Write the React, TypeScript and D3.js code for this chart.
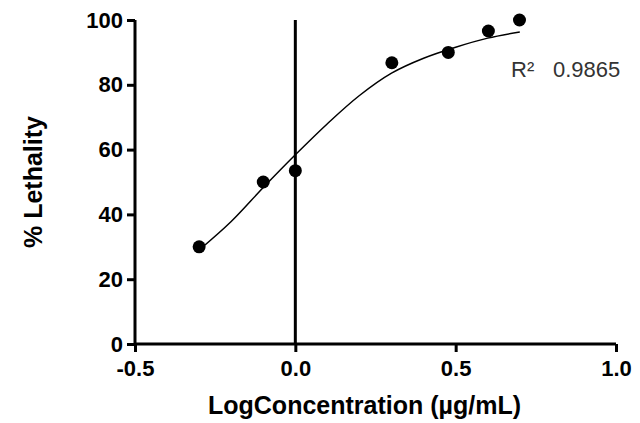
import React, { useEffect, useRef } from 'react';
import * as d3 from 'd3';

// observed data
const logConc = [-0.3, -0.1, 0.0, 0.301, 0.477, 0.602, 0.699];
const lethality = [30, 50, 53.5, 86.8, 90, 96.6, 100];

// fitted curve
const fitX = [-0.3, -0.2, -0.1, 0.0, 0.1, 0.2, 0.3, 0.4, 0.5, 0.6, 0.7];
const fitY = [29.0, 37.8, 48.3, 58.4, 68.0, 76.7, 83.6, 88.2, 91.6, 94.4, 96.3];

const xTicks = [-0.5, 0.0, 0.5, 1.0];
const yTicks = [0, 20, 40, 60, 80, 100];
const r2Label = 'R²';
const r2Value = '0.9865';

const FONT = '"Liberation Sans", Arial, sans-serif';

export default function App() {
  const ref = useRef<SVGSVGElement>(null);

  useEffect(() => {
    const width = 640;
    const height = 423;
    const margin = { top: 20, right: 24, bottom: 79, left: 135 };

    const svg = d3.select(ref.current);
    svg.selectAll('*').remove();

    const x = d3.scaleLinear().domain([-0.5, 1.0]).range([margin.left, width - margin.right]);
    const y = d3.scaleLinear().domain([0, 100]).range([height - margin.bottom, margin.top]);

    // y axis
    const yAxis = svg.append('g')
      .attr('transform', `translate(${margin.left},0)`)
      .call(d3.axisLeft(y).tickValues(yTicks).tickFormat(d3.format('d')).tickSize(8).tickPadding(4));
    yAxis.select('.domain').attr('stroke', '#000').attr('stroke-width', 3)
      .attr('d', `M0,${y(100)}V${y(0)}`);
    yAxis.selectAll('.tick line').attr('stroke', '#000').attr('stroke-width', 3);
    yAxis.selectAll('.tick text')
      .attr('font-family', FONT).attr('font-size', 22).attr('font-weight', 'bold').attr('fill', '#000');

    // x axis
    const xAxis = svg.append('g')
      .attr('transform', `translate(0,${y(0)})`)
      .call(d3.axisBottom(x).tickValues(xTicks).tickSize(8).tickPadding(8));
    xAxis.select('.domain').attr('stroke', '#000').attr('stroke-width', 3)
      .attr('d', `M${x(-0.5)},0H${x(1.0)}`);
    xAxis.selectAll('.tick line').attr('stroke', '#000').attr('stroke-width', 3);
    xAxis.selectAll('.tick text')
      .attr('font-family', FONT).attr('font-size', 22).attr('font-weight', 'bold').attr('fill', '#000')
      .text((d: any) => (+d).toFixed(1));

    // vertical line at x = 0
    svg.append('line')
      .attr('x1', x(0)).attr('x2', x(0))
      .attr('y1', y(100)).attr('y2', y(0))
      .attr('stroke', '#000').attr('stroke-width', 3);

    // fitted curve
    const fit = fitX.map((v, i) => [v, fitY[i]] as [number, number]);
    const line = d3.line<[number, number]>()
      .x(d => x(d[0]))
      .y(d => y(d[1]))
      .curve(d3.curveCatmullRom.alpha(0.5));
    svg.append('path')
      .attr('d', line(fit))
      .attr('fill', 'none')
      .attr('stroke', '#000')
      .attr('stroke-width', 1.5);

    // points
    svg.selectAll('.pt')
      .data(logConc.map((v, i) => [v, lethality[i]]))
      .join('circle')
      .attr('class', 'pt')
      .attr('cx', d => x(d[0]))
      .attr('cy', d => y(d[1]))
      .attr('r', 6.5)
      .attr('fill', '#000');

    // R squared
    const r2 = svg.append('text')
      .attr('x', 511).attr('y', 77)
      .attr('font-family', FONT).attr('font-size', 22).attr('fill', '#333');
    r2.append('tspan').text(r2Label);
    r2.append('tspan').attr('x', 553).text(r2Value);

    // axis titles
    svg.append('text')
      .attr('x', (x(-0.5) + x(1.0)) / 2 - 11)
      .attr('y', 414)
      .attr('text-anchor', 'middle')
      .attr('font-family', FONT).attr('font-size', 25).attr('font-weight', 'bold')
      .text('LogConcentration (µg/mL)');

    svg.append('text')
      .attr('transform', `translate(42,${(y(0) + y(100)) / 2}) rotate(-90)`)
      .attr('text-anchor', 'middle')
      .attr('font-family', FONT).attr('font-size', 25).attr('font-weight', 'bold')
      .text('% Lethality');
  }, []);

  return (
    <svg ref={ref} width={640} height={423}
      style={{ position: 'absolute', left: 0, top: 0, background: '#fff' }} />
  );
}
